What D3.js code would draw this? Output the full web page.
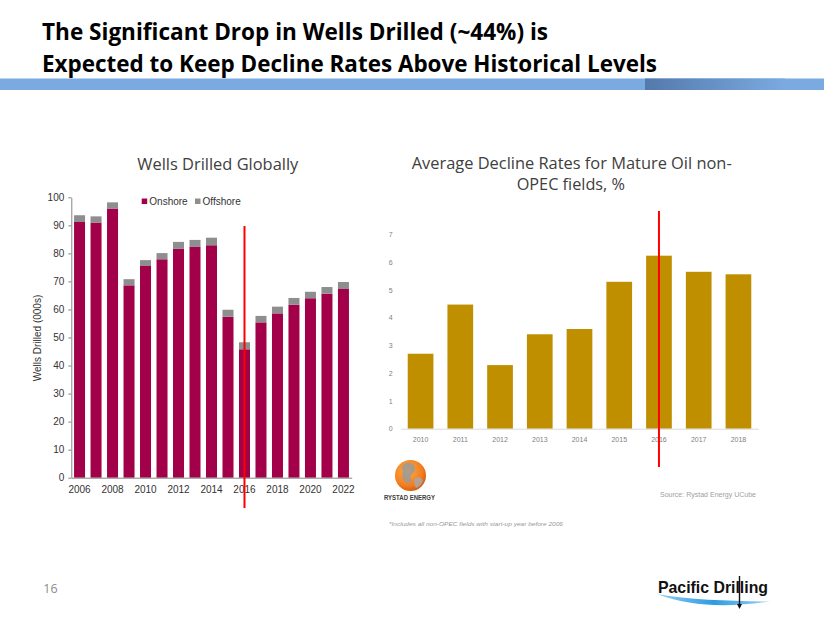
<!DOCTYPE html>
<html>
<head>
<meta charset="utf-8">
<script src="https://cdn.jsdelivr.net/npm/d3@7"></script>
<style>
  html, body { margin: 0; padding: 0; background: #ffffff; }
  svg { display: block; }
</style>
</head>
<body>
<script>
// ---------- DATA ----------
const wellYears = ["2006","2007","2008","2009","2010","2011","2012","2013","2014","2015","2016","2017","2018","2019","2020","2021","2022"];
const onshore  = [91.2, 91.0, 96.0, 68.6, 75.5, 77.9, 81.6, 82.3, 82.9, 57.4, 45.8, 55.4, 58.6, 61.7, 64.0, 65.6, 67.3];
const offshore = [2.4, 2.2, 2.2, 2.2, 2.1, 2.2, 2.5, 2.5, 2.7, 2.5, 2.5, 2.3, 2.4, 2.4, 2.3, 2.4, 2.5];
const wellTicks = [0,10,20,30,40,50,60,70,80,90,100];
const wellYearLabels = ["2006","2008","2010","2012","2014","2016","2018","2020","2022"];
const seriesNames = ["Onshore","Offshore"];

const declineYears = ["2010","2011","2012","2013","2014","2015","2016","2017","2018"];
const declineRates = [2.70, 4.47, 2.29, 3.40, 3.59, 5.29, 6.23, 5.65, 5.56];
const declineTicks = [0,1,2,3,4,5,6,7];

const markerYear = "2016";

const titleLines = ["The Significant Drop in Wells Drilled (~44%) is",
                    "Expected to Keep Decline Rates Above Historical Levels"];
const leftTitle = "Wells Drilled Globally";
const rightTitleLines = ["Average Decline Rates for Mature Oil non-", "OPEC fields, %"];
const yAxisLabel = "Wells Drilled (000s)";
const sourceText = "Source: Rystad Energy UCube";
const footnoteText = "*Includes all non-OPEC fields with start-up year before 2006";
const pageNumber = "16";

// ---------- STYLE ----------
const W = 824, H = 637;
const colOn = "#A20048", colOff = "#8E8E8E", colGold = "#BF8F00", colRed = "#FF0000";
const calibri = "'Open Sans', 'Noto Sans', sans-serif";
const arial = "'Liberation Sans', Arial, sans-serif";

const svg = d3.select("body").append("svg").attr("width", W).attr("height", H);
const defs = svg.append("defs");

// ---------- HEADER ----------
svg.append("text").attr("x", 42).attr("y", 39.5)
  .attr("font-family", calibri).attr("font-weight", 700).attr("font-size", 24)
  .attr("textLength", 506).attr("lengthAdjust", "spacingAndGlyphs")
  .attr("fill", "#000").text(titleLines[0]);
svg.append("text").attr("x", 42).attr("y", 71.5)
  .attr("font-family", calibri).attr("font-weight", 700).attr("font-size", 24)
  .attr("textLength", 615).attr("lengthAdjust", "spacingAndGlyphs")
  .attr("fill", "#000").text(titleLines[1]);

const grad = defs.append("linearGradient").attr("id", "bandGrad")
  .attr("x1", "0").attr("x2", "1").attr("y1", "0").attr("y2", "0");
grad.append("stop").attr("offset", "0").attr("stop-color", "#5479AC");
grad.append("stop").attr("offset", "1").attr("stop-color", "#7BAAE0");
svg.append("rect").attr("x", 0).attr("y", 78.5).attr("width", W).attr("height", 11.5).attr("fill", "#7BAAE0");
svg.append("rect").attr("x", 645).attr("y", 78.5).attr("width", 140).attr("height", 11.5).attr("fill", "url(#bandGrad)");

// ---------- LEFT CHART ----------
const xL = d3.scaleBand().domain(wellYears).range([71.3, 351.7]).paddingInner(0.333).paddingOuter(0.1667);
const yL = d3.scaleLinear().domain([0, 100]).range([477.7, 197.3]);

svg.append("text").attr("x", 217.8).attr("y", 170)
  .attr("text-anchor", "middle").attr("font-family", calibri).attr("font-size", 17)
  .attr("textLength", 161).attr("lengthAdjust", "spacingAndGlyphs")
  .attr("fill", "#404040").text(leftTitle);

const stackData = wellYears.map((y, i) => ({year: y, Onshore: onshore[i], Offshore: offshore[i]}));
const stacked = d3.stack().keys(seriesNames)(stackData);
const colors = {Onshore: colOn, Offshore: colOff};

const gL = svg.append("g");
stacked.forEach(s => {
  gL.selectAll(null).data(s).enter().append("rect")
    .attr("x", d => xL(d.data.year))
    .attr("width", xL.bandwidth())
    .attr("y", d => yL(d[1]))
    .attr("height", d => yL(d[0]) - yL(d[1]))
    .attr("fill", colors[s.key]);
});

const axL = svg.append("g").attr("transform", "translate(71.3,0)")
  .call(d3.axisLeft(yL).tickValues(wellTicks).tickSize(3).tickSizeOuter(0).tickPadding(4));
axL.select(".domain").attr("stroke", "#868686");
axL.selectAll(".tick line").attr("stroke", "#868686");
axL.selectAll("text").attr("font-family", arial).attr("font-size", 10).attr("fill", "#333");

const axB = svg.append("g").attr("transform", "translate(0,477.7)")
  .call(d3.axisBottom(xL).tickValues(wellYearLabels).tickSize(0).tickSizeOuter(0).tickPadding(8.5));
axB.select(".domain").attr("stroke", "#868686");
axB.selectAll("text").attr("font-family", arial).attr("font-size", 10).attr("fill", "#333");

svg.append("text").attr("transform", "translate(40.5,338) rotate(-90)")
  .attr("text-anchor", "middle").attr("font-family", arial).attr("font-size", 10)
  .attr("fill", "#333").text(yAxisLabel);

// legend
const legX = [141.7, 195];
seriesNames.forEach((n, i) => {
  svg.append("rect").attr("x", legX[i]).attr("y", 198.5).attr("width", 5.5).attr("height", 5.5).attr("fill", colors[n]);
  svg.append("text").attr("x", legX[i] + 7.6).attr("y", 204.5)
    .attr("font-family", arial).attr("font-size", 10).attr("fill", "#333").text(n);
});

// red marker
const mxL = xL(markerYear) + xL.bandwidth() / 2;
svg.append("line").attr("x1", mxL).attr("x2", mxL).attr("y1", 226).attr("y2", 508)
  .attr("stroke", colRed).attr("stroke-width", 2);

// ---------- RIGHT CHART ----------
const xR = d3.scaleBand().domain(declineYears).range([400.7, 758.3]).paddingInner(0.353).paddingOuter(0.1765);
const yR = d3.scaleLinear().domain([0, 7]).range([428.7, 234.3]);

rightTitleLines.forEach((t, i) => {
  svg.append("text").attr("x", i === 0 ? 411.7 : 516.7).attr("y", i === 0 ? 169 : 190)
    .attr("font-family", calibri).attr("font-size", 16)
    .attr("textLength", i === 0 ? 320 : 108.3).attr("lengthAdjust", "spacingAndGlyphs")
    .attr("fill", "#404040").text(t);
});

svg.append("g").selectAll("rect").data(declineYears).enter().append("rect")
  .attr("x", d => xR(d)).attr("width", xR.bandwidth())
  .attr("y", (d, i) => yR(declineRates[i]))
  .attr("height", (d, i) => yR(0) - yR(declineRates[i]))
  .attr("fill", colGold);

const axR = svg.append("g").attr("transform", "translate(400.7,0)")
  .call(d3.axisLeft(yR).tickValues(declineTicks).tickFormat(d3.format("d")).tickSize(0).tickSizeOuter(0).tickPadding(8));
axR.select(".domain").remove();
axR.selectAll("text").attr("font-family", arial).attr("font-size", 7).attr("fill", "#808080");

const axRB = svg.append("g").attr("transform", "translate(0,428.7)")
  .call(d3.axisBottom(xR).tickSize(0).tickSizeOuter(0).tickPadding(8));
axRB.select(".domain").attr("stroke", "#D9D9D9");
axRB.selectAll("text").attr("font-family", arial).attr("font-size", 7).attr("fill", "#808080");

const mxR = xR(markerYear) + xR.bandwidth() / 2;
svg.append("line").attr("x1", mxR).attr("x2", mxR).attr("y1", 211).attr("y2", 467)
  .attr("stroke", colRed).attr("stroke-width", 2);

// ---------- RYSTAD LOGO ----------
const rg = defs.append("radialGradient").attr("id", "globe").attr("cx", "0.4").attr("cy", "0.35").attr("r", "0.7");
rg.append("stop").attr("offset", "0").attr("stop-color", "#FBB040");
rg.append("stop").attr("offset", "0.7").attr("stop-color", "#F47B20");
rg.append("stop").attr("offset", "1").attr("stop-color", "#C85A10");
svg.append("circle").attr("cx", 410.5).attr("cy", 475.5).attr("r", 15.5).attr("fill", "url(#globe)");
svg.append("path").attr("d", "M404,464 q6,-3 10,1 q3,5 -2,9 q-3,3 0,7 q-4,4 -8,0 q-3,-6 -1,-10 q-3,-3 1,-7z")
  .attr("fill", "#9A9A9A").attr("opacity", 0.85);
svg.append("path").attr("d", "M415,478 q5,-2 8,2 q-1,6 -7,8 q-3,-4 -1,-10z")
  .attr("fill", "#A8A8A8").attr("opacity", 0.85);
svg.append("text").attr("x", 409.5).attr("y", 500).attr("text-anchor", "middle")
  .attr("font-family", arial).attr("font-weight", 700).attr("font-size", 6.3)
  .attr("textLength", 51).attr("lengthAdjust", "spacingAndGlyphs")
  .attr("fill", "#404040").text("RYSTAD ENERGY");

svg.append("text").attr("x", 660).attr("y", 497)
  .attr("font-family", arial).attr("font-size", 7.3)
  .attr("textLength", 96).attr("lengthAdjust", "spacingAndGlyphs")
  .attr("fill", "#A0A0A0").text(sourceText);

svg.append("text").attr("x", 389).attr("y", 526)
  .attr("font-family", arial).attr("font-style", "italic").attr("font-size", 6.2)
  .attr("textLength", 174).attr("lengthAdjust", "spacingAndGlyphs")
  .attr("fill", "#999").text(footnoteText);

// ---------- FOOTER ----------
svg.append("text").attr("x", 43.3).attr("y", 592.5)
  .attr("font-family", calibri).attr("font-size", 12.5).attr("fill", "#8C8C8C").text(pageNumber);

const sw = defs.append("linearGradient").attr("id", "swoosh").attr("x1", "0").attr("x2", "1");
sw.append("stop").attr("offset", "0").attr("stop-color", "#8FD0F5");
sw.append("stop").attr("offset", "0.5").attr("stop-color", "#2E9BE0");
sw.append("stop").attr("offset", "1").attr("stop-color", "#9BD3F3");
svg.append("path")
  .attr("d", "M657,594 C690,600 730,601 770,601.5 C730,607.5 690,607 657,594 Z")
  .attr("fill", "url(#swoosh)");
svg.append("text").attr("x", 658).attr("y", 593)
  .attr("font-family", arial).attr("font-weight", 700).attr("font-size", 17)
  .attr("textLength", 110).attr("lengthAdjust", "spacingAndGlyphs")
  .attr("fill", "#111").text("Pacific Drilling");
svg.append("line").attr("x1", 739.5).attr("x2", 739.5).attr("y1", 576).attr("y2", 607)
  .attr("stroke", "#111").attr("stroke-width", 1.4);
svg.append("path").attr("d", "M737,604 L742,604 L739.5,609 Z").attr("fill", "#111");
</script>
</body>
</html>
